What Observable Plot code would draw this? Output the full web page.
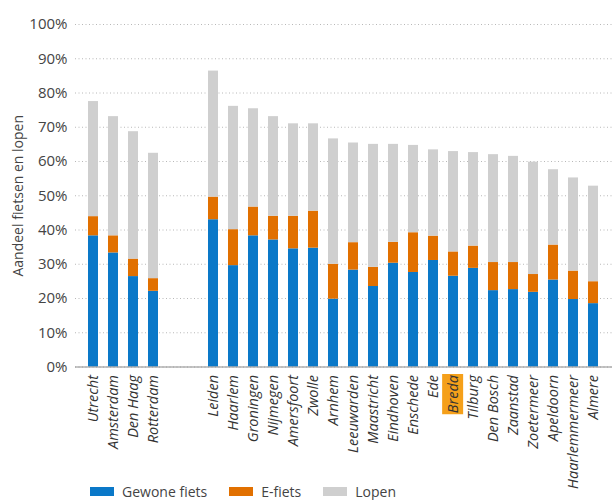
<!DOCTYPE html>
<html>
<head>
<meta charset="utf-8">
<script src="https://cdn.jsdelivr.net/npm/d3@7"></script>
<script src="https://cdn.jsdelivr.net/npm/@observablehq/plot@0.6"></script>
<style>
  body { margin: 0; background: #fff; font-family: "Open Sans", sans-serif; }
  #legend { display: flex; align-items: center; margin-left: 90px; margin-top: 14px; font-size: 14px; color: #444; }
  #legend .item { display: flex; align-items: center; margin-right: 22px; }
  #legend .sw { width: 24px; height: 9px; margin-right: 8px; }
</style>
</head>
<body>
<div id="chart"></div>
<script>
const cities = ["Utrecht","Amsterdam","Den Haag","Rotterdam",
  "Leiden","Haarlem","Groningen","Nijmegen","Amersfoort","Zwolle","Arnhem","Leeuwarden",
  "Maastricht","Eindhoven","Enschede","Ede","Breda","Tilburg","Den Bosch","Zaanstad",
  "Zoetermeer","Apeldoorn","Haarlemmermeer","Almere"];
const gewoneFiets = [38.3,33.3,26.4,22.1, 43.0,29.6,38.3,37.1,34.5,34.7,19.8,28.3,23.5,30.3,27.6,31.1,26.5,28.8,22.3,22.6,21.8,25.4,19.7,18.5];
const eFiets      = [5.6,5.0,5.1,3.7, 6.6,10.5,8.4,6.9,9.5,10.8,10.2,8.0,5.6,6.1,11.6,7.1,7.1,6.5,8.2,7.9,5.2,10.2,8.3,6.4];
const lopen       = [33.6,34.8,37.2,36.6, 36.8,36.0,28.7,29.1,27.0,25.5,36.6,29.1,35.9,28.6,25.5,25.2,29.3,27.3,31.5,31.0,32.8,22.0,27.2,27.9];
const series = ["Gewone fiets","E-fiets","Lopen"];
const colors = ["#0a78c8","#e17000","#cfcfcf"];
const yTicks = [0,10,20,30,40,50,60,70,80,90,100];
const yTitle = "Aandeel fietsen en lopen";
const highlight = "Breda";

const xDomain = [...cities.slice(0,4), " ", "  ", ...cities.slice(4)];
const rows = [];
cities.forEach((c,i) => {
  rows.push({city:c, mode:series[0], value:gewoneFiets[i]});
  rows.push({city:c, mode:series[1], value:eFiets[i]});
  rows.push({city:c, mode:series[2], value:lopen[i]});
});

const plot = Plot.plot({
  width: 612,
  height: 468,
  marginLeft: 75,
  marginRight: 0,
  marginTop: 24,
  marginBottom: 101.5,
  style: {fontFamily: "Open Sans, sans-serif", fontSize: "13px", color: "#444", overflow: "visible"},
  x: {domain: xDomain, padding: 0.48, paddingOuter: 0.65, label: null},
  y: {domain: [0,100], label: null},
  color: {domain: series, range: colors},
  marks: [
    Plot.gridY(yTicks, {stroke: "#9a9a9a", strokeOpacity: 0.7, strokeDasharray: "1,2.5"}),
    Plot.barY(rows, {x: "city", y: "value", fill: "mode", order: series}),
    Plot.ruleY([0], {stroke: "#8c8c8c", strokeWidth: 1.2}),
    Plot.axisY(yTicks, {tickSize: 0, tickPadding: 8, tickFormat: d => d + "%", fontSize: 15, fill: "#444", label: null}),
    Plot.text([yTitle], {frameAnchor: "left", rotate: -90, dx: -57, textAnchor: "middle", fontSize: 14, fill: "#444"}),
    Plot.axisX({tickSize: 0, tickPadding: 8, tickRotate: -90, fontStyle: "italic", fontSize: 14.5,
      fill: "#333", tickFormat: d => d.trim()})
  ]
});
document.getElementById("chart").appendChild(plot);

// highlight label
plot.querySelectorAll('g[aria-label="x-axis tick label"] text').forEach(t => {
  if (t.textContent === highlight) {
    const b = t.getBBox();
    const r = document.createElementNS("http://www.w3.org/2000/svg", "rect");
    r.setAttribute("x", b.x - 1); r.setAttribute("y", b.y - 1);
    r.setAttribute("width", b.width + 2); r.setAttribute("height", b.height + 2);
    r.setAttribute("fill", "#f5a01a");
    const tr = t.getAttribute("transform");
    if (tr) r.setAttribute("transform", tr);
    t.parentNode.insertBefore(r, t);
  }
});

const legend = document.createElement("div");
legend.id = "legend";
series.forEach((s,i) => {
  const it = document.createElement("div"); it.className = "item";
  const sw = document.createElement("div"); sw.className = "sw"; sw.style.background = colors[i];
  const tx = document.createElement("span"); tx.textContent = s;
  it.appendChild(sw); it.appendChild(tx); legend.appendChild(it);
});
document.body.appendChild(legend);
</script>
</body>
</html>
